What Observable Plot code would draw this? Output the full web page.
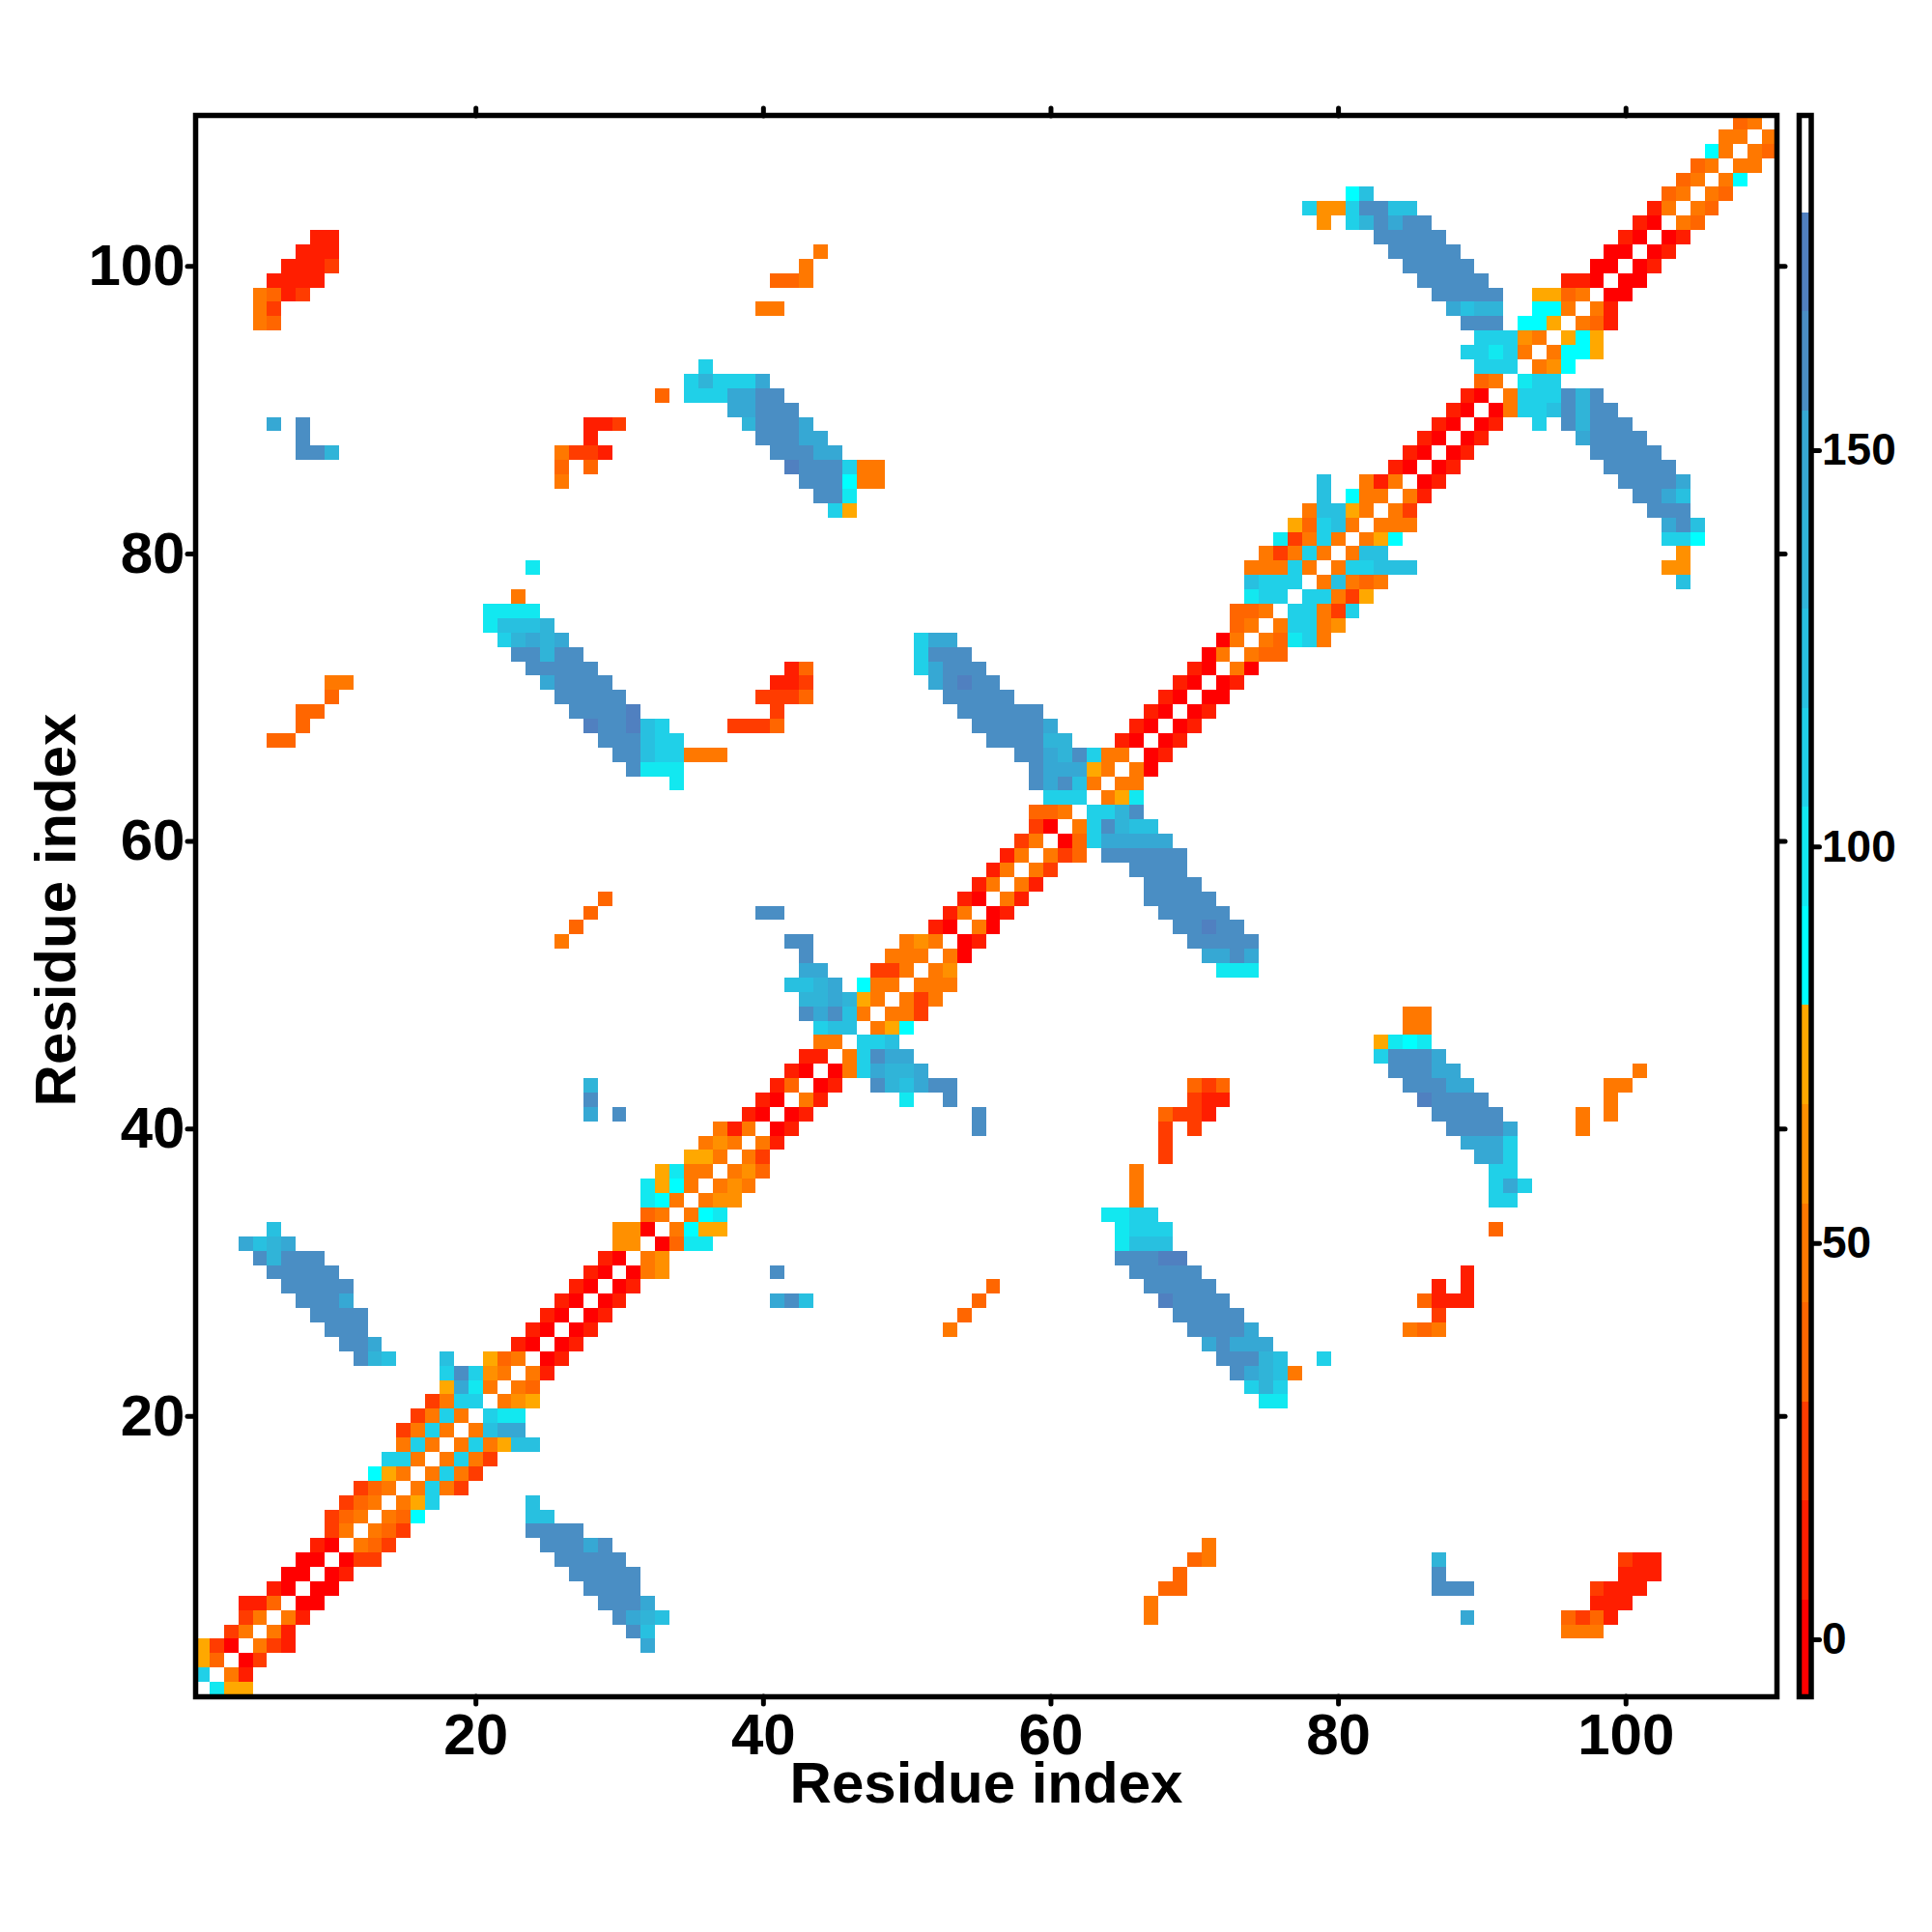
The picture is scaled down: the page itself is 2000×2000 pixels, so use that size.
<!DOCTYPE html>
<html>
<head>
<meta charset="utf-8">
<script src="https://cdn.jsdelivr.net/npm/d3@7"></script>
<script src="https://cdn.jsdelivr.net/npm/@observablehq/plot@0.6"></script>
<style>
html,body{margin:0;padding:0;background:#fff;}
#chart{position:relative;width:2000px;height:2000px;}
#chart svg{position:absolute;left:0;top:0;background:transparent;}
</style>
</head>
<body>
<div id="chart"></div>
<script>
// Letter codes a..o = one level of the colour bar (a lowest)
const letters = "abcdefghijklmno";
const levelValues = [0, 11, 24, 36, 49, 61, 74, 86, 99, 111, 124, 136, 149, 161, 174];
const bandEdges = [5, 17.5, 30, 42.5, 55, 67.5, 80, 92.5, 105, 117.5, 130, 142.5, 155, 167.5];
const bandColors = ["#ff0000","#ff1e00","#ff3c00","#ff6600","#ff7800","#ff9000","#ffa800","#00ffff","#12e8f0","#20d0e8","#28c0e0","#30b4d8","#36a8d4","#4a8ec4","#5080c0"];
const axisTicks = [20, 40, 60, 80, 100];
const barTicks = [0, 50, 100, 150];
const barLimits = [-7.2, 192.3];
const barWhiteFrom = 180;
const axisTitle = "Residue index";

// Each row: [residue y, "startX letters startX letters ..."], "." leaves a cell empty
const bandLow = [
[1,"2 igg"],[2,"1 j.eb"],[3,"1 gd.ac"],[4,"1 gca.ecb"],[5,"3 ce.eb"],[6,"4 ce.eb"],[7,"4 bbd.aa"],[8,"6 ba.aa"],
[9,"7 aa.ab"],[10,"8 aa.acc"],[11,"9 ba.edc"],[12,"10 ce.edc"],[13,"10 cde.edh"],[14,"11 cde.egj"],[15,"12 cde.ejec"],
[16,"13 hge.ejec"],[17,"14 jje.ejec"],[18,"15 eje.ejegkk"],[19,"15 ceje.ekmm"],[20,"16 ceje.jii"],[21,"17 cejj.efg"],
[22,"18 gmie.ed"],[23,"18 jnjfe.eb"],[24,"18 k 21 gde.ab"],[25,"23 ba.ab"],[26,"24 ba.ab"],[27,"25 ba.ab"],[28,"26 ba.ab"],
[29,"27 ba.ab"],[30,"28 ba.aef"],[31,"29 ba.ef"],[32,"30 ff.adii"],[33,"30 ffa.ehgg"],[34,"32 de.ehi"],[35,"32 ihe.eff"],
[36,"32 ighe.efe"],[37,"33 giee.efd"]
];
const bandMid = [
[38,"35 gge.ec"],[39,"36 efe.eb"],[40,"37 ebe.ab"],[41,"39 ba.ab"],[42,"40 ba.eb 50 i 53 n"],[43,"41 bd.ab 48 nlkmnn"],
[44,"42 ba.aejmllm"],[45,"43 bb.ejnmm"],[46,"44 ee.jjk"],[47,"44 jkk.egh"],[48,"43 nmnke.eec"],[49,"43 llmlge.ece"],
[50,"42 kklm.hee.eee"],[51,"43 mm 48 cce.ef"],[52,"43 n 49 eee.ea"],[53,"42 nn 50 efe.ab"],[54,"52 ba.ea"],[55,"40 nn 53 be.ab"],
[56,"54 ba.eb"],[57,"55 be.eb"],[58,"56 be.ec"],[59,"57 be.ecd 64 nnnnnn"],[60,"58 ce.adjmmmmm"],[61,"59 ca.ejnlkk"],
[62,"59 dde.jjln"],[63,"60 jjj.egi"],[64,"59 nmnke.ee"],[65,"59 nmmmge.ea"],[66,"58 nnmlnjee.ab"],[67,"56 nnnnll 65 ba.ab"],
[68,"55 nnnnnm 66 ba.ab"],[69,"54 nnnnnn 67 ba.ab"],[70,"53 nnnnn 68 ba.aa"],[71,"52 mnonn 69 ba.ab"],[72,"51 jmnnn 70 ba.ea"],
[73,"51 jnnn 71 ae.edd"],[74,"51 jmm 72 ae.edije"]
];
const bandHigh = [
[75,"73 de.ejjef"],[76,"73 dde.jjecj"],[77,"74 ijj.jjecg"],[78,"74 kjjj.ekede"],[79,"74 eeeje.ejjkkk"],[80,"75 eceje.ekk"],
[81,"76 iceje.egh"],[82,"77 gdjke.eee"],[83,"78 ekkge.ec"],[84,"79 k.hee.eb"],[85,"79 k 82 ebe.ab"],[86,"84 ba.ab"],[87,"85 ba.ab"],
[88,"86 ba.ab"],[89,"87 ba.ab"],[90,"88 ba.aejjknlnn"],[91,"89 ba.ejjjnln"],[92,"90 de.ijj"],[93,"90 jjj.efh"],[94,"89 jjije.ehhg"],
[95,"90 jjjfe.ghg"],[96,"89 nnn.hhg.edb"],[97,"88 mkll 94 hhe.eb"],[98,"87 nnnnn 94 ggde.aa"],[99,"86 nnnnn 96 bba.aa"],
[100,"85 nnnnn 98 aa.ab"],[101,"84 nnnnn 99 aa.ab"],[102,"83 nnnnn 100 ba.ab"],[103,"79 f.jlnmnn 101 ba.ed"],
[104,"78 jffjnnkk 102 be.ed"],[105,"81 hk 103 de.ed"],[106,"104 de.eh"],[107,"105 de.ee"],[108,"106 he.ed"],[109,"107 ee.e"],[110,"108 de"]
];
const strandsUpperLeft = [
[93,"36 j"],[92,"35 jljjjm"],[91,"33 d.jjjmmnn"],[90,"38 mmnnn"],[89,"39 lnnnm"],[88,"40 nnnmm"],[87,"41 nnnmm"],[86,"42 onnnjee"],
[85,"43 nnnhee"],[84,"44 nni"],[83,"45 jg"],
[79,"24 i"],[77,"23 e"],[76,"21 iiii"],[75,"21 ikkkl"],[74,"22 jlmlm"],[73,"23 nnlnn"],[72,"24 nnnnn"],[71,"25 mnnnn"],[70,"26 nnnnn"],
[69,"27 nnnno"],[68,"28 onnokj"],[67,"29 nnnkjj"],[66,"30 nnkjjeee"],[65,"31 niii"],[64,"34 i"],
[33,"6 k"],[32,"4 mklm"],[31,"5 nlnnn"],[30,"6 nnnnn"],[29,"7 nnnnn"],[28,"8 nnnm"],[27,"9 nnnn"],[26,"10 nnn"],[25,"11 nnm"],[24,"12 nlk"]
];
const strandsLowerRight = [
[89,"94 j.nlnnn"],[88,"97 mnnnn"],[87,"98 nnnnn"],[86,"99 nnnnn"],[85,"100 nnnnm"],[84,"101 nnmk"],[83,"102 nnn"],[82,"103 mnk"],
[81,"103 jjh"],[80,"104 f"],[79,"103 ff"],[78,"104 k"],
[58,"66 nnnn"],[57,"67 nnnn"],[56,"67 nnnnn"],[55,"68 nnnnn"],[54,"69 nnonn"],[53,"70 nnnnn"],[52,"71 mmnm"],[51,"72 iii"],
[48,"85 ee"],[47,"85 ee"],[46,"83 gihi"],[45,"83 jnnnm"],[44,"84 nnnmm"],[43,"85 nnnmm"],[42,"86 onnnn"],[41,"87 nnnnn"],[40,"88 nnnnm"],
[39,"89 mmmj"],[38,"90 mmj"],[37,"91 jj 66 e"],[36,"91 jmj 66 e"],[35,"91 jj 66 e"],[33,"91 d"],
[34,"64 iijj"],[33,"65 ijjj"],[32,"65 ikkk"],[31,"65 nnnoo"],[30,"66 nnnnn"],[29,"67 nnnnn"],[28,"68 onnnn"],[27,"69 nnnnn"],[26,"70 nnnnm"],
[25,"71 mnmmm"],[24,"72 nnnlk 79 j"],[23,"73 nmlke"],[22,"74 jlj"],[21,"75 ii"],
[14,"24 k"],[13,"24 kk"],[12,"24 nnnn"],[11,"25 nnnmn"],[10,"26 nnnnn"],[9,"27 nnnnn"],[8,"28 nnnn"],[7,"29 nnnm"],[6,"30 nmlk"],[5,"31 nk"],[4,"32 m"]
];
const spotsUpperLeft = [
[102,"9 bb"],[101,"8 bbb 44 e"],[100,"7 bbbc 43 e"],[99,"6 bbbb 41 dde"],[98,"5 edbc"],[97,"5 ec 40 ee"],[96,"5 ed"],
[89,"6 m.n 28 bbc"],[88,"8 n 28 b"],[87,"8 nnl 26 eccb"],[86,"26 d.d"],[85,"26 e"],
[72,"42 bd"],[71,"10 ee 41 bbc"],[70,"10 d 40 cccd"],[69,"8 dd 41 c"],[68,"8 d 38 cccd"],[67,"6 dd"],
[56,"29 d"],[55,"28 d"],[54,"27 d"],[53,"26 e"],
[43,"28 l"],[42,"28 n"],[41,"28 m.n 55 n"],[40,"55 n"],[30,"41 n"],[29,"56 d"],[28,"41 mnk 55 d"],[27,"54 d"],[26,"53 e"]
];
const spotsLowerRight = [
[44,"101 e"],[43,"70 dcd 99 ee"],[42,"70 cbb 99 e"],[41,"68 dccb 97 e.e"],[40,"68 c.c 97 e"],[39,"68 c"],[38,"68 c"],
[30,"89 b"],[29,"87 b.b"],[28,"86 dbbb"],[27,"87 c"],[26,"85 ede"],
[11,"71 e"],[10,"70 de 87 l 100 cbb"],[9,"69 d 87 n 100 bbb"],[8,"68 dd 87 nnn 98 cbbb"],[7,"67 e 98 bbb"],[6,"67 e 89 m 96 dcdb"],[5,"96 eee"]
];

const cells = [];
for (const group of [bandLow, bandMid, bandHigh, strandsUpperLeft, strandsLowerRight, spotsUpperLeft, spotsLowerRight]) {
  for (const [y, text] of group) {
    const parts = text.split(" ");
    for (let p = 0; p < parts.length; p += 2) {
      const start = +parts[p];
      [...parts[p + 1]].forEach((ch, k) => {
        if (ch !== ".") cells.push({x: start + k, y, value: levelValues[letters.indexOf(ch)]});
      });
    }
  }
}

const font = {fontFamily: "'Liberation Sans', Arial, sans-serif", fontWeight: "bold", background: "transparent"};
const colorScale = {type: "threshold", domain: bandEdges, range: bandColors};
const noLabel = () => "";

const main = Plot.plot({
  width: 2000, height: 2000,
  marginLeft: 202, marginRight: 161, marginTop: 119, marginBottom: 244,
  style: font,
  x: {domain: [0.5, 110.5], ticks: axisTicks, label: null},
  y: {domain: [0.5, 110.5], ticks: axisTicks, label: null},
  color: colorScale,
  marks: [
    Plot.rect(cells, {
      x1: d => d.x - 0.5, x2: d => d.x + 0.5,
      y1: d => d.y - 0.5, y2: d => d.y + 0.5,
      fill: "value", shapeRendering: "crispEdges"
    }),
    Plot.frame({stroke: "black", strokeWidth: 5.5}),
    Plot.axisX(axisTicks, {anchor: "bottom", tickSize: 8, strokeWidth: 5, strokeLinecap: "round", fontSize: 60, tickPadding: 9, label: null, fill: "black"}),
    Plot.axisX(axisTicks, {anchor: "top", tickSize: 8, strokeWidth: 5, strokeLinecap: "round", tickFormat: noLabel, label: null}),
    Plot.axisY(axisTicks, {anchor: "left", tickSize: 8, strokeWidth: 5, strokeLinecap: "round", fontSize: 60, tickPadding: 3, label: null, fill: "black"}),
    Plot.axisY(axisTicks, {anchor: "right", tickSize: 8, strokeWidth: 5, strokeLinecap: "round", tickFormat: noLabel, label: null}),
    Plot.text([axisTitle], {frameAnchor: "bottom", dx: 0, dy: 109, lineAnchor: "bottom", textAnchor: "middle", fontSize: 60, fontWeight: "bold", fill: "black"}),
    Plot.text([axisTitle], {frameAnchor: "left", dx: -144, dy: 4, rotate: -90, textAnchor: "middle", fontSize: 60, fontWeight: "bold", fill: "black"})
  ]
});

const edges = [barLimits[0], ...bandEdges, barWhiteFrom];
const barBands = bandColors.map((c, i) => ({y1: edges[i], y2: edges[i + 1], value: (edges[i] + edges[i + 1]) / 2}));

const bar = Plot.plot({
  width: 2000, height: 2000,
  marginLeft: 1862, marginRight: 125.5, marginTop: 119, marginBottom: 244,
  style: font,
  x: {domain: [0, 1], axis: null},
  y: {domain: barLimits, ticks: barTicks, label: null},
  color: colorScale,
  marks: [
    Plot.rect(barBands, {x1: 0, x2: 1, y1: "y1", y2: "y2", fill: "value", shapeRendering: "crispEdges"}),
    Plot.frame({stroke: "black", strokeWidth: 5.5}),
    Plot.axisY(barTicks, {anchor: "right", tickSize: 8, strokeWidth: 5, strokeLinecap: "round", fontSize: 46, tickPadding: 3, label: null, fill: "black"})
  ]
});

const host = document.getElementById("chart");
host.append(main, bar);
</script>
</body>
</html>
